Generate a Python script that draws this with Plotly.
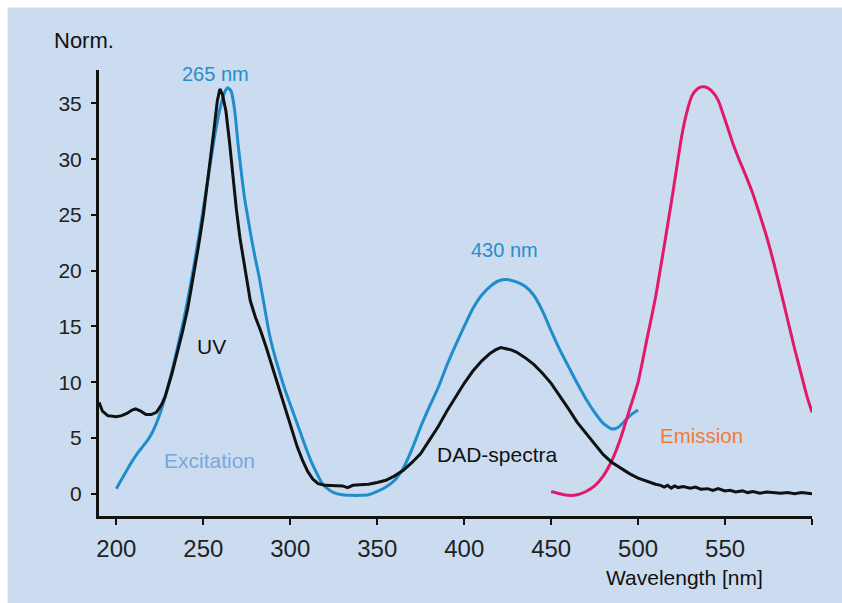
import plotly.graph_objects as go

# DAD-spectra (UV absorbance, black)
uv_x = [190, 192, 195, 200, 203, 206, 209, 211, 214, 217, 220, 223, 226, 228, 232, 235, 238, 241, 244,
        247, 250, 253, 256, 258, 259.5, 261, 263, 265, 267, 269, 271, 273, 275, 277, 280, 283, 286,
        289, 292, 295, 298, 301, 304, 307, 310, 313, 316, 320, 325, 330, 333, 336, 340, 345, 350,
        355, 360, 365, 370, 375, 380, 385, 390, 395, 400, 405, 410, 415, 418, 421, 424, 427, 430,
        435, 440, 445, 450, 455, 460, 465, 470, 475, 480, 485, 490, 495, 500, 505, 510, 513, 515,
        517, 519, 521, 523, 526, 530, 533, 536, 540, 543, 546, 550, 553, 556, 560, 563, 566, 570,
        574, 578, 582, 586, 590, 594, 597, 600]
uv_y = [8.2, 7.4, 7.0, 6.9, 7.0, 7.2, 7.5, 7.6, 7.4, 7.1, 7.1, 7.3, 8.0, 8.7, 10.8, 12.6, 14.5, 16.6, 19.2,
        22.0, 25.0, 28.6, 32.5, 35.2, 36.3, 35.8, 34.3, 31.6, 28.4, 25.5, 23.0, 21.0, 19.0, 17.3, 15.8, 14.6, 13.2,
        11.8, 10.2, 8.7, 7.2, 5.6, 4.2, 3.0, 2.0, 1.3, 0.9, 0.75, 0.7, 0.7, 0.55, 0.75, 0.8, 0.85, 1.0,
        1.2, 1.6, 2.1, 2.8, 3.6, 4.8, 6.0, 7.4, 8.7, 9.9, 11.0, 11.9, 12.6, 12.9, 13.1, 13.0, 12.9, 12.7,
        12.2, 11.6, 10.8, 9.9, 8.8, 7.6, 6.4, 5.4, 4.4, 3.5, 2.8, 2.3, 1.8, 1.4, 1.1, 0.85, 0.75, 0.6,
        0.75, 0.5, 0.7, 0.55, 0.65, 0.5, 0.6, 0.4, 0.45, 0.3, 0.45, 0.25, 0.3, 0.15, 0.25, 0.1, 0.2, 0.05,
        0.15, 0.1, 0.05, 0.1, 0.0, 0.1, 0.05, 0.0]

# Excitation spectrum (blue)
ex_x = [200, 203, 206, 209, 212, 215, 218, 221, 224, 227, 230, 233, 236, 239, 242, 245, 248, 251, 254,
        257, 260, 262, 264, 266, 268, 270, 272, 274, 276, 278, 280, 282, 285, 288, 291, 294, 297, 300,
        303, 306, 309, 312, 315, 318, 321, 325, 330, 335, 340, 345, 350, 355, 360, 365, 370, 375, 380,
        385, 390, 395, 400, 405, 410, 415, 420, 425, 430, 435, 440, 445, 450, 455, 460, 465, 470, 475,
        480, 485, 488, 491, 494, 497, 500]
ex_y = [0.45, 1.3, 2.1, 2.9, 3.6, 4.2, 4.8, 5.6, 6.7, 8.1, 9.8, 11.7, 13.7, 15.8, 18.2, 20.8, 23.6, 26.6, 29.6,
        32.5, 34.8, 35.9, 36.4, 36.1, 34.4, 31.3, 28.6, 26.2, 24.4, 22.6, 21.0, 19.5, 16.9, 14.3, 12.4, 10.8, 9.3, 8.0,
        6.7, 5.4, 4.1, 2.9, 1.9, 1.0, 0.5, 0.1, -0.1, -0.15, -0.15, -0.1, 0.2, 0.6, 1.2, 2.3, 4.0, 6.0, 7.8,
        9.5, 11.5, 13.3, 15.0, 16.6, 17.8, 18.6, 19.1, 19.2, 19.0, 18.6, 17.8, 16.4, 14.6, 12.9, 11.4, 9.9, 8.5, 7.3,
        6.3, 5.8, 5.9, 6.3, 6.8, 7.2, 7.5]

# Emission spectrum (pink)
em_x = [450, 455, 460, 465, 470, 475, 480, 485, 490, 495, 500, 505, 510, 515, 520, 525, 528, 531, 534,
        537, 540, 543, 546, 549, 552, 555, 558, 562, 566, 570, 574, 578, 582, 586, 590, 594, 597, 600]
em_y = [0.2, 0.0, -0.15, -0.1, 0.2, 0.7, 1.6, 3.0, 5.0, 7.5, 10.0, 13.8, 17.6, 22.2, 27.0, 32.0, 34.2, 35.7, 36.3,
        36.5, 36.4, 36.0, 35.3, 34.0, 32.6, 31.2, 30.0, 28.5, 26.9, 25.0, 23.0, 20.7, 18.2, 15.6, 13.0, 10.6, 8.8, 7.3]

x_ticks = [200, 250, 300, 350, 400, 450, 500, 550, 600]
x_tick_labels = ["200", "250", "300", "350", "400", "450", "500", "550", ""]
y_ticks = [0, 5, 10, 15, 20, 25, 30, 35]

BG = "#cbdcf0"
BLUE = "#1f8ccb"
PINK = "#e2196a"

fig = go.Figure()
fig.add_trace(go.Scatter(x=ex_x, y=ex_y, mode="lines", line=dict(color=BLUE, width=3, shape="spline", smoothing=0.6),
                         hoverinfo="skip"))
fig.add_trace(go.Scatter(x=em_x, y=em_y, mode="lines", line=dict(color=PINK, width=3, shape="spline", smoothing=0.6),
                         hoverinfo="skip"))
fig.add_trace(go.Scatter(x=uv_x, y=uv_y, mode="lines", line=dict(color="#111111", width=3), hoverinfo="skip"))

# thin white border at the top and left edges, as in the reference
fig.add_shape(type="rect", xref="paper", yref="paper", x0=-0.2, x1=1.2, y0=1.140, y1=1.3,
              fillcolor="white", line=dict(width=0), layer="below")
fig.add_shape(type="rect", xref="paper", yref="paper", x0=-0.2, x1=-0.1283, y0=-0.4, y1=1.3,
              fillcolor="white", line=dict(width=0), layer="below")

FONT = "Liberation Sans, Arial, sans-serif"
NARROW = "Liberation Sans Narrow, Liberation Sans, Arial, sans-serif"

ann = [
    dict(text="265 nm", x=256.9, y=37.6, color="#2a8ccc", size=20, family=FONT),
    dict(text="430 nm", x=423.1, y=21.9, color="#2a8ccc", size=20, family=FONT),
    dict(text="UV", x=254.5, y=13.2, color="#111111", size=21, family=NARROW),
    dict(text="Excitation", x=253.4, y=3.0, color="#7aa6dc", size=21, family=FONT),
    dict(text="DAD-spectra", x=419.1, y=3.5, color="#111111", size=21, family=FONT),
    dict(text="Emission", x=536.4, y=5.2, color="#f47a30", size=20.5, family=FONT),
]
for a in ann:
    fig.add_annotation(text=a["text"], x=a["x"], y=a["y"], xref="x", yref="y", showarrow=False,
                       xanchor="center", yanchor="middle",
                       font=dict(color=a["color"], size=a["size"], family=a["family"]))

fig.add_annotation(text="Norm.", x=-0.0205, y=1.066, xref="paper", yref="paper", showarrow=False,
                   xanchor="center", yanchor="middle", font=dict(color="#111111", size=22, family=FONT))
fig.add_annotation(text="Wavelength [nm]", x=0.8216, y=-0.138, xref="paper", yref="paper", showarrow=False,
                   xanchor="center", yanchor="middle", font=dict(color="#111111", size=21, family=FONT))

fig.update_layout(
    width=842, height=603,
    margin=dict(l=99, r=30, t=70, b=87, pad=0),
    paper_bgcolor=BG,
    plot_bgcolor="rgba(0,0,0,0)",
    showlegend=False,
    xaxis=dict(range=[190, 600], tickvals=x_ticks, ticktext=x_tick_labels, showgrid=False, zeroline=False,
               showline=True, linecolor="#111111", linewidth=3, ticks="outside", ticklen=6, tickwidth=2,
               tickcolor="#111111", ticklabelstandoff=3,
               tickfont=dict(family=NARROW, size=24, color="#222222")),
    yaxis=dict(range=[-2, 38], tickvals=y_ticks, showgrid=False, zeroline=False,
               showline=True, linecolor="#111111", linewidth=3, ticks="outside", ticklen=5, tickwidth=2,
               tickcolor="#111111", ticklabelstandoff=5,
               tickfont=dict(family=FONT, size=21, color="#222222")),
)

fig.write_html(
    "out.html",
    config={"displayModeBar": False},
    post_script="document.body.style.margin='0';document.body.style.overflow='hidden';"
                "document.documentElement.style.overflow='hidden';"
                "document.body.style.background='" + BG + "';",
)
